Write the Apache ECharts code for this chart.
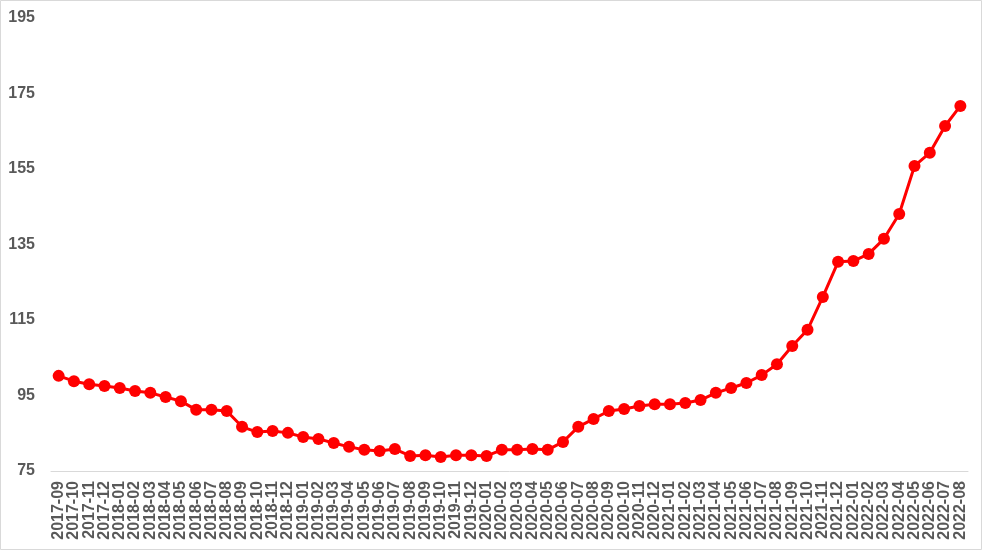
<!DOCTYPE html>
<html>
<head>
<meta charset="utf-8">
<script src="https://cdn.jsdelivr.net/npm/echarts@6/dist/echarts.min.js"></script>
<style>
html,body{margin:0;padding:0;background:#fff;}
#chart{width:983px;height:551px;}
</style>
</head>
<body>
<div id="chart"></div>
<script>
const categories = [
"2017-09","2017-10","2017-11","2017-12",
"2018-01","2018-02","2018-03","2018-04","2018-05","2018-06","2018-07","2018-08","2018-09","2018-10","2018-11","2018-12",
"2019-01","2019-02","2019-03","2019-04","2019-05","2019-06","2019-07","2019-08","2019-09","2019-10","2019-11","2019-12",
"2020-01","2020-02","2020-03","2020-04","2020-05","2020-06","2020-07","2020-08","2020-09","2020-10","2020-11","2020-12",
"2021-01","2021-02","2021-03","2021-04","2021-05","2021-06","2021-07","2021-08","2021-09","2021-10","2021-11","2021-12",
"2022-01","2022-02","2022-03","2022-04","2022-05","2022-06","2022-07","2022-08"
];
const values = [
100.2, 98.8, 98.0, 97.5,
97.0, 96.2, 95.7, 94.6, 93.5, 91.2, 91.2, 90.9, 86.7, 85.3, 85.6, 85.1,
84.0, 83.5, 82.4, 81.4, 80.6, 80.3, 80.8, 79.0, 79.2, 78.7, 79.2, 79.2,
79.0, 80.6, 80.6, 80.8, 80.6, 82.7, 86.7, 88.8, 90.9, 91.4, 92.2, 92.7,
92.7, 93.0, 93.8, 95.7, 97.0, 98.3, 100.4, 103.3, 108.1, 112.4, 121.1, 130.4,
130.6, 132.5, 136.5, 143.1, 155.8, 159.3, 166.4, 171.7
];
const yMin = 75, yMax = 195, yStep = 20;

const chart = echarts.init(document.getElementById('chart'), null, {renderer:'canvas'});
chart.setOption({
  animation: false,
  backgroundColor: '#ffffff',
  graphic: [{
    type: 'rect', silent: true,
    shape: {x: 0.5, y: 0.5, width: 981, height: 549},
    style: {fill: 'none', stroke: '#d9d9d9', lineWidth: 1}
  }],
  grid: {left: 51, right: 15, top: 18, bottom: 80, containLabel: false},
  xAxis: {
    type: 'category',
    data: categories,
    boundaryGap: true,
    axisLine: {show: true, lineStyle: {color: '#d9d9d9', width: 1}},
    axisTick: {show: false},
    axisLabel: {
      interval: 0, rotate: 90, margin: 10,
      color: '#595959', fontSize: 16, fontWeight: 'bold',
      fontFamily: 'Liberation Sans, Arial, sans-serif'
    },
    splitLine: {show: false}
  },
  yAxis: {
    type: 'value',
    min: yMin, max: yMax, interval: yStep,
    axisLine: {show: false},
    axisTick: {show: false},
    splitLine: {show: false},
    axisLabel: {
      margin: 16,
      color: '#595959', fontSize: 16, fontWeight: 'bold',
      fontFamily: 'Liberation Sans, Arial, sans-serif'
    }
  },
  series: [{
    type: 'line',
    data: values,
    symbol: 'circle',
    symbolSize: 12,
    lineStyle: {color: '#ff0000', width: 3},
    itemStyle: {color: '#ff0000'},
    z: 3
  }]
});
</script>
</body>
</html>
